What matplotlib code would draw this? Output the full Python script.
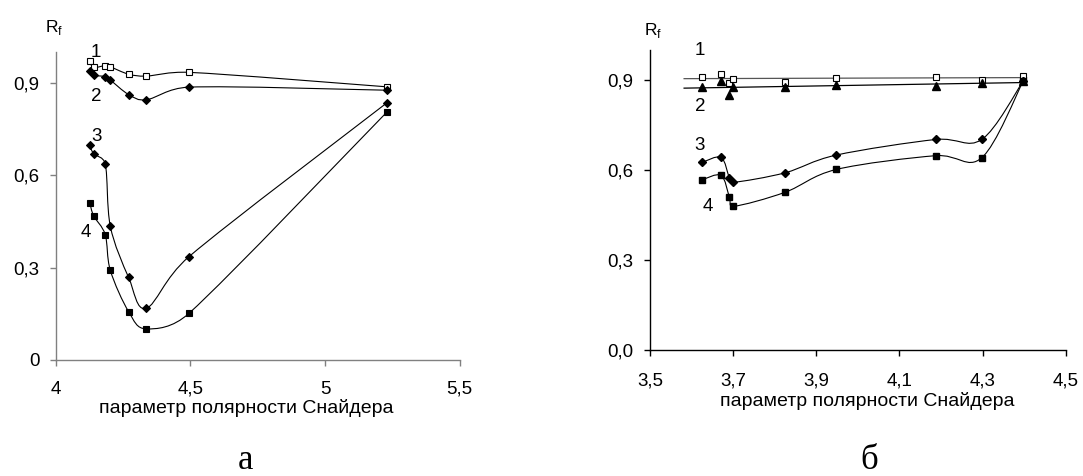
import numpy as np
import matplotlib
matplotlib.use("Agg")
import matplotlib.pyplot as plt
from matplotlib.path import Path
from matplotlib.patches import PathPatch

plt.rcParams['font.family'] = ['Liberation Sans', 'DejaVu Sans']

# panel a
a_x = [4.126, 4.140, 4.183, 4.202, 4.270, 4.336, 4.495, 5.230]
a_y1 = [0.970, 0.950, 0.956, 0.952, 0.928, 0.922, 0.934, 0.887]
a_y2 = [0.938, 0.925, 0.920, 0.909, 0.862, 0.845, 0.886, 0.876]
a_y3 = [0.697, 0.670, 0.637, 0.434, 0.268, 0.168, 0.336, 0.835]
a_y4 = [0.510, 0.468, 0.407, 0.291, 0.157, 0.101, 0.152, 0.805]

# panel b
b_x = [3.626, 3.671, 3.691, 3.700, 3.825, 3.948, 4.187, 4.298, 4.398]
b_y1 = [0.911, 0.922, 0.891, 0.904, 0.894, 0.908, 0.912, 0.902, 0.913]
b_y2 = [0.878, 0.897, 0.852, 0.876, 0.876, 0.884, 0.880, 0.889, 0.898]
b_y3 = [0.626, 0.642, 0.574, 0.559, 0.591, 0.650, 0.702, 0.702, 0.897]
b_y4 = [0.568, 0.582, 0.510, 0.479, 0.526, 0.602, 0.648, 0.641, 0.897]

xlabel = "параметр полярности Снайдера"

W, H = 10.83, 4.76


def smooth_line(ax, x, y, color="black"):
    """Excel-like smoothed line: cubic Bezier, arms limited to half a segment."""
    # work in pixel-like units so the arm limit behaves as on screen
    bb = ax.get_position()
    x0, x1 = ax.get_xlim()
    y0, y1 = ax.get_ylim()
    sx = bb.width * W * 100 / (x1 - x0)
    sy = bb.height * H * 100 / (y1 - y0)
    pts = np.column_stack([np.asarray(x) * sx, np.asarray(y) * sy])
    n = len(pts)
    verts = [pts[0]]
    codes = [Path.MOVETO]
    for i in range(n - 1):
        p0 = pts[i - 1] if i > 0 else pts[i]
        p1 = pts[i]
        p2 = pts[i + 1]
        p3 = pts[i + 2] if i + 2 < n else pts[i + 1]
        seg = np.hypot(*(p2 - p1))
        a1 = (p2 - p0) / 6
        a2 = (p3 - p1) / 6
        for a in (a1, a2):
            la = np.hypot(*a)
            if la > seg / 2:
                a *= (seg / 2) / la
        verts += [p1 + a1, p2 - a2, p2]
        codes += [Path.CURVE4] * 3
    verts = np.array(verts) / [sx, sy]
    ax.add_patch(PathPatch(Path(verts, codes), facecolor="none",
                           edgecolor=color, lw=0.8, zorder=2))


def style_axes(ax, spine_color, xpad):
    for s in ["top", "right"]:
        ax.spines[s].set_visible(False)
    for s in ["left", "bottom"]:
        ax.spines[s].set_color(spine_color)
        ax.spines[s].set_linewidth(1.0)
    ax.tick_params(direction="out", length=4, width=1.0, color=spine_color,
                   labelsize=13.5)
    ax.tick_params(axis="x", pad=xpad)
    ax.tick_params(axis="y", pad=8)


fig = plt.figure(figsize=(W, H), dpi=100)

# ---- panel a ----
ax1 = fig.add_axes([0.0517, 0.2437, 0.3726, 0.647])
ax1.set_xlim(4, 5.5)
ax1.set_ylim(0, 1.0)
ax1.set_xticks([4, 4.5, 5, 5.5])
ax1.set_xticklabels(["4", "4,5", "5", "5,5"])
ax1.set_yticks([0, 0.3, 0.6, 0.9])
ax1.set_yticklabels(["0", "0,3", "0,6", "0,9"])
style_axes(ax1, "#808080", 11)

for yy, m, fc in [(a_y1, "s", "white"), (a_y2, "D", "black"),
                  (a_y3, "D", "black"), (a_y4, "s", "black")]:
    smooth_line(ax1, a_x, yy)
    ax1.plot(a_x, yy, ls="none", marker=m, ms=5 if m == "s" else 4.5,
             mfc=fc, mec="black", mew=0.8, zorder=3)

for t, tx, ty in [("1", 4.149, 0.999), ("2", 4.149, 0.856), ("3", 4.149, 0.725), ("4", 4.112, 0.413)]:
    ax1.text(tx, ty, t, fontsize=13.5, ha="center", va="center")
ax1.text(3.992, 1.08, "R$_\\mathregular{f}$", fontsize=12.5, ha="center", va="center")
ax1.set_xlabel(xlabel, fontsize=14)
ax1.xaxis.set_label_coords(0.472, -0.128)
fig.text(0.227, 0.014, "а", family="Liberation Serif", fontsize=25, ha="center", va="baseline")

# ---- panel b ----
ax2 = fig.add_axes([0.6002, 0.2647, 0.3838, 0.630])
ax2.set_xlim(3.5, 4.5)
ax2.set_ylim(0, 1.0)
ax2.set_xticks([3.5, 3.7, 3.9, 4.1, 4.3, 4.5])
ax2.set_xticklabels(["3,5", "3,7", "3,9", "4,1", "4,3", "4,5"])
ax2.set_yticks([0, 0.3, 0.6, 0.9])
ax2.set_yticklabels(["0,0", "0,3", "0,6", "0,9"])
style_axes(ax2, "black", 12)

# linear trend lines for series 1 and 2
xt = np.array([3.582, 4.406])
for yy, col in [(b_y1, "#555555"), (b_y2, "black")]:
    k, b = np.polyfit(b_x, yy, 1)
    ax2.plot(xt, k * xt + b, color=col, lw=0.9, zorder=2)

ax2.plot(b_x, b_y1, ls="none", marker="s", ms=5, mfc="white", mec="black", mew=0.8, zorder=3)
ax2.plot(b_x, b_y2, ls="none", marker="^", ms=5.5, mfc="black", mec="black", zorder=3)
for yy, m in [(b_y3, "D"), (b_y4, "s")]:
    smooth_line(ax2, b_x, yy)
    ax2.plot(b_x, yy, ls="none", marker=m, ms=5 if m == "s" else 4.5,
             mfc="black", mec="black", zorder=3)

for t, tx, ty in [("1", 3.62, 1.0), ("2", 3.62, 0.811), ("3", 3.62, 0.681), ("4", 3.639, 0.478)]:
    ax2.text(tx, ty, t, fontsize=13.5, ha="center", va="center")
ax2.text(3.507, 1.065, "R$_\\mathregular{f}$", fontsize=12.5, ha="center", va="center")
ax2.set_xlabel(xlabel, fontsize=14)
ax2.xaxis.set_label_coords(0.523, -0.14)
fig.text(0.803, 0.014, "б", family="Liberation Serif", fontsize=25, ha="center", va="baseline")

fig.savefig("out.png", dpi=100)
